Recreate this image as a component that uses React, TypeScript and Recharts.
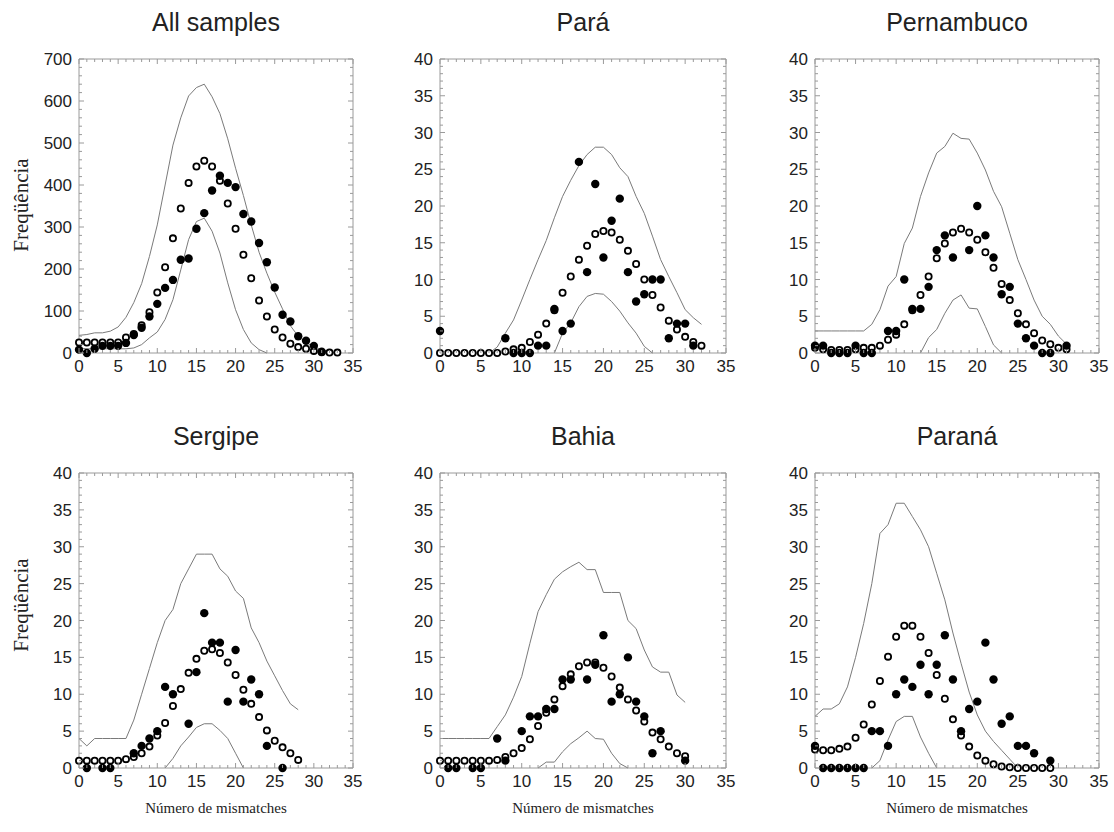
import { ComposedChart, Line, Scatter, XAxis, YAxis, ReferenceArea } from 'recharts';

// index of each array = número de mismatches (0, 1, 2, ...)
const allObserved = [8, 0, 10, 17, 17, 17, 24, 43, 60, 87, 117, 155, 174, 222, 225, 296, 333, 387, 422, 405, 395, 331, 313, 262, 216, 156, 91, 75, 40, 29, 17, 3];
const allExpected = [25, 25, 25, 25, 25, 25, 37, 45, 66, 97, 144, 204, 273, 344, 405, 444, 458, 444, 410, 356, 296, 234, 178, 125, 87, 56, 37, 22, 14, 10, 5, 2, 1, 1];
const allUpper = [42, 44, 48, 48, 52, 62, 85, 120, 165, 230, 305, 400, 495, 560, 612, 632, 640, 610, 570, 510, 440, 375, 305, 240, 190, 145, 105, 65, 40, 25, 15, 8, 3, 0];
const allLower = [12, 10, 10, 10, 10, 10, 10, 12, 20, 36, 50, 80, 127, 198, 270, 313, 321, 290, 238, 167, 103, 56, 24, 8, 0];

const paraObserved = [3, null, null, null, null, null, null, null, 2, 0, 0, 0, 1, 1, 6, 3, 4, 26, 11, 23, 13, 18, 21, 11, 7, 8, 10, 10, 2, 4, 4, 1];
const paraExpected = [0, 0, 0, 0, 0, 0, 0, 0, 0.2, 0.5, 0.7, 1.5, 2.5, 4, 5.8, 8.2, 10.4, 12.7, 14.6, 16.2, 16.6, 16.4, 15.4, 13.9, 12.1, 10, 7.9, 6.2, 4.4, 3.2, 2.2, 1.5, 1];
const paraUpper = [0, 0, 0, 0, 0, 0, 0, 0.8, 2.7, 4.5, 7.2, 10, 12.7, 15.3, 18.4, 21.3, 23.5, 25.5, 27, 28, 28, 27, 25.2, 24, 21.3, 19, 15.9, 12.7, 10.4, 8.2, 5.9, 4.8, 3.9];
const paraLower = [null, null, null, null, null, null, null, null, null, null, null, null, null, null, 0, 2.7, 4.1, 6.3, 7.7, 8.1, 8, 7, 5.7, 4.1, 2.7, 0.9, 0];

const pernObserved = [1, 1, 0, 0, 0, 1, 0, 0, null, 3, 3, 10, 6, 6, 9, 14, 16, 13, null, 14, 20, 16, 13, 8, 9, 4, 2, 1, 0, 0, null, 1];
const pernExpected = [0.7, 0.5, 0.4, 0.4, 0.4, 0.5, 0.7, 0.7, 1, 1.8, 2.5, 3.9, 5.8, 7.9, 10.4, 12.9, 14.9, 16.4, 16.9, 16.4, 15.4, 13.7, 11.6, 9.4, 7.2, 5.4, 3.9, 2.7, 1.7, 1.2, 0.7, 0.5];
const pernUpper = [3, 3, 3, 3, 3, 3, 3, 3.9, 5.9, 9.1, 10.4, 14.9, 17, 21.3, 24.5, 27.2, 28.1, 29.9, 29.2, 29.1, 27.2, 24.9, 22, 19.9, 16.3, 12.7, 10, 7.2, 5, 3.9, 2.3, 1.2];
const pernLower = [null, null, null, null, null, null, null, null, null, null, null, null, null, 0, 2.1, 3.2, 5.4, 7.2, 7.9, 6.1, 6, 3.6, 1.1, 0];

const sergObserved = [null, 0, null, 0, 0, null, null, 2, 3, 4, 5, 11, 10, null, 6, 13, 21, 17, 17, 9, 16, 9, 12, 10, 3, null, 0];
const sergExpected = [1, 1, 1, 1, 1, 1, 1.2, 1.5, 2, 2.9, 4.4, 6.1, 8.4, 10.7, 12.9, 14.8, 15.9, 16.1, 15.6, 14.3, 12.6, 10.6, 8.7, 6.9, 5.1, 3.7, 2.8, 2, 1.1];
const sergUpper = [4, 3, 4, 4, 4, 4, 4, 6.5, 10, 13.5, 17, 20, 21.5, 25, 27, 29, 29, 29, 27, 26, 24, 23, 19, 17, 14.5, 12.5, 10.5, 8.7, 7.9];
const sergLower = [null, null, null, null, null, null, null, null, null, null, null, 0, 1.3, 3, 4.2, 5.5, 6, 6, 5.1, 4, 2, 0];

const bahiaObserved = [null, 0, 0, null, 0, 0, null, 4, 1, null, 5, 7, 7, 8, 8, 12, 12, null, 12, 14, 18, 9, 10, 15, 9, 7, 2, 5, null, null, 1];
const bahiaExpected = [1, 1, 1, 1, 1, 1, 1, 1.1, 1.5, 2, 2.7, 3.9, 5.7, 7.5, 9.3, 11.1, 12.7, 13.8, 14.3, 14.3, 13.6, 12.4, 10.9, 9.3, 7.8, 6.3, 4.8, 3.9, 2.9, 2, 1.6];
const bahiaUpper = [4, 4, 4, 4, 4, 4, 4, 5.6, 7.2, 9.6, 12.4, 16.9, 21.2, 23.5, 25.6, 26.6, 27.3, 27.9, 26.9, 26.9, 23.8, 23.8, 23.8, 20, 18.9, 16, 13.7, 13, 13, 9.9, 8.9];
const bahiaLower = [null, null, null, null, null, null, null, null, null, null, null, null, 0, 0.8, 0.8, 2.2, 3.3, 4.1, 5, 4, 3.9, 2, 0.6, 0];

const paranaObserved = [3, 0, 0, 0, 0, 0, 0, 5, 5, 3, 10, 12, 11, 14, 10, 14, 18, 12, 5, 8, 9, 17, 12, 6, 7, 3, 3, 2, null, 1];
const paranaExpected = [2.5, 2.4, 2.4, 2.6, 2.9, 4.1, 5.9, 8.6, 11.8, 15.1, 17.8, 19.3, 19.3, 17.8, 15.6, 12.6, 9.4, 6.6, 4.4, 2.9, 1.7, 1, 0.5, 0.2, 0.1, 0, 0, 0, 0, 0];
const paranaUpper = [7, 8, 8, 8.7, 11, 15, 19.6, 25, 31.8, 33, 35.9, 35.9, 34.1, 32.3, 30, 26.4, 22.8, 18.3, 14.2, 10.3, 7.2, 5, 3.6, 2.4, 1.2, 0];
const paranaLower = [null, null, null, null, null, null, null, 0, 1, 3.8, 6.3, 7, 7, 4.2, 2, 0];

const xMajorTicks = [0, 5, 10, 15, 20, 25, 30, 35];
const yMajorSmall = [0, 5, 10, 15, 20, 25, 30, 35, 40];
const yMajorAll = [0, 100, 200, 300, 400, 500, 600, 700];

const FRAME = '#9a9a9a';
const LINE = '#7a7a7a';
const TEXT = '#222';
const SANS = '"Liberation Sans", Arial, sans-serif';
const SERIF = '"Liberation Serif", "Times New Roman", serif';

type Val = number | null;

function toPoints(values: Val[]) {
  const out: { x: number; y: number }[] = [];
  values.forEach((v, i) => {
    if (v !== null) out.push({ x: i, y: v });
  });
  return out;
}

function range(max: number, step: number) {
  const out: number[] = [];
  for (let v = 0; v <= max + 1e-9; v += step) out.push(v);
  return out;
}

interface PanelProps {
  left: number;
  top: number;
  plotW: number;
  plotH: number;
  yMax: number;
  yMajor: number[];
  yMinorStep: number;
  observed: Val[];
  expected: Val[];
  upper: Val[];
  lower: Val[];
}

function Panel({ left, top, plotW, plotH, yMax, yMajor, yMinorStep, observed, expected, upper, lower }: PanelProps) {
  const xTicks = range(35, 1);
  const yTicks = range(yMax, yMinorStep);

  const renderXTick = (p: any) => {
    const v = p.payload.value;
    const major = xMajorTicks.includes(v);
    const len = major ? 5 : 3;
    return (
      <g key={`xt-${v}`}>
        <line x1={p.x} y1={p.y} x2={p.x} y2={p.y - len} stroke={FRAME} />
        <line x1={p.x} y1={p.y - plotH} x2={p.x} y2={p.y - plotH + len} stroke={FRAME} />
        {major && (
          <text x={p.x} y={p.y + 19} textAnchor="middle" fontSize={17} fill={TEXT} fontFamily={SANS}>
            {v}
          </text>
        )}
      </g>
    );
  };

  const renderYTick = (p: any) => {
    const v = p.payload.value;
    const major = yMajor.includes(v);
    const len = major ? 5 : 3;
    return (
      <g key={`yt-${v}`}>
        <line x1={p.x} y1={p.y} x2={p.x + len} y2={p.y} stroke={FRAME} />
        <line x1={p.x + plotW} y1={p.y} x2={p.x + plotW - len} y2={p.y} stroke={FRAME} />
        {major && (
          <text x={p.x - 7} y={p.y + 6} textAnchor="end" fontSize={17} fill={TEXT} fontFamily={SANS}>
            {v}
          </text>
        )}
      </g>
    );
  };

  return (
    <div style={{ position: 'absolute', left: left - 60, top: top - 10 }}>
      <ComposedChart
        width={plotW + 70}
        height={plotH + 40}
        margin={{ top: 10, right: 10, left: 10, bottom: 5 }}
      >
        <XAxis
          type="number"
          dataKey="x"
          domain={[0, 35]}
          ticks={xTicks}
          interval={0}
          tickSize={0}
          tickMargin={0}
          tickLine={false}
          axisLine={false}
          height={25}
          tick={renderXTick}
        />
        <YAxis
          type="number"
          dataKey="y"
          domain={[0, yMax]}
          ticks={yTicks}
          interval={0}
          tickSize={0}
          tickMargin={0}
          tickLine={false}
          axisLine={false}
          width={50}
          tick={renderYTick}
        />
        <ReferenceArea x1={0} x2={35} y1={0} y2={yMax} fill="none" stroke={FRAME} strokeWidth={1} ifOverflow="visible" />
        <Line data={toPoints(upper)} dataKey="y" type="linear" stroke={LINE} strokeWidth={1} dot={false} isAnimationActive={false} />
        <Line data={toPoints(lower)} dataKey="y" type="linear" stroke={LINE} strokeWidth={1} dot={false} isAnimationActive={false} />
        <Scatter
          data={toPoints(expected)}
          isAnimationActive={false}
          shape={(s: any) => <circle cx={s.cx} cy={s.cy} r={3.1} fill="#fff" stroke="#000" strokeWidth={1.8} />}
        />
        <Scatter
          data={toPoints(observed)}
          isAnimationActive={false}
          shape={(s: any) => <circle cx={s.cx} cy={s.cy} r={4.2} fill="#000" />}
        />
      </ComposedChart>
    </div>
  );
}

const cols = [
  { left: 79, plotW: 274, center: 216 },
  { left: 440, plotW: 286, center: 583 },
  { left: 815, plotW: 284, center: 957 },
];

export default function App() {
  return (
    <div style={{ position: 'absolute', left: 0, top: 0, width: 1114, height: 832, background: '#fff', overflow: 'hidden' }}>
      <Panel left={cols[0].left} top={59} plotW={cols[0].plotW} plotH={294} yMax={700} yMajor={yMajorAll} yMinorStep={20}
        observed={allObserved} expected={allExpected} upper={allUpper} lower={allLower} />
      <Panel left={cols[1].left} top={59} plotW={cols[1].plotW} plotH={294} yMax={40} yMajor={yMajorSmall} yMinorStep={1}
        observed={paraObserved} expected={paraExpected} upper={paraUpper} lower={paraLower} />
      <Panel left={cols[2].left} top={59} plotW={cols[2].plotW} plotH={294} yMax={40} yMajor={yMajorSmall} yMinorStep={1}
        observed={pernObserved} expected={pernExpected} upper={pernUpper} lower={pernLower} />
      <Panel left={cols[0].left} top={473} plotW={cols[0].plotW} plotH={295} yMax={40} yMajor={yMajorSmall} yMinorStep={1}
        observed={sergObserved} expected={sergExpected} upper={sergUpper} lower={sergLower} />
      <Panel left={cols[1].left} top={473} plotW={cols[1].plotW} plotH={295} yMax={40} yMajor={yMajorSmall} yMinorStep={1}
        observed={bahiaObserved} expected={bahiaExpected} upper={bahiaUpper} lower={bahiaLower} />
      <Panel left={cols[2].left} top={473} plotW={cols[2].plotW} plotH={295} yMax={40} yMajor={yMajorSmall} yMinorStep={1}
        observed={paranaObserved} expected={paranaExpected} upper={paranaUpper} lower={paranaLower} />

      <svg width={1114} height={832} style={{ position: 'absolute', left: 0, top: 0, pointerEvents: 'none' }}>
        <g fontFamily={SANS} fontSize={25} fill={TEXT} textAnchor="middle">
          <text x={cols[0].center} y={31}>All samples</text>
          <text x={cols[1].center} y={31}>Pará</text>
          <text x={cols[2].center} y={31}>Pernambuco</text>
          <text x={cols[0].center} y={445}>Sergipe</text>
          <text x={cols[1].center} y={445}>Bahia</text>
          <text x={cols[2].center} y={445}>Paraná</text>
        </g>
        <g fontFamily={SERIF} fontSize={21} fill={TEXT} textAnchor="middle">
          <text transform="translate(28,205) rotate(-90)">Freqüência</text>
          <text transform="translate(28,605) rotate(-90)">Freqüência</text>
        </g>
        <g fontFamily={SERIF} fontSize={15} fill={TEXT} textAnchor="middle">
          <text x={cols[0].center} y={813}>Número de mismatches</text>
          <text x={cols[1].center} y={813}>Número de mismatches</text>
          <text x={cols[2].center} y={813}>Número de mismatches</text>
        </g>
      </svg>
    </div>
  );
}
